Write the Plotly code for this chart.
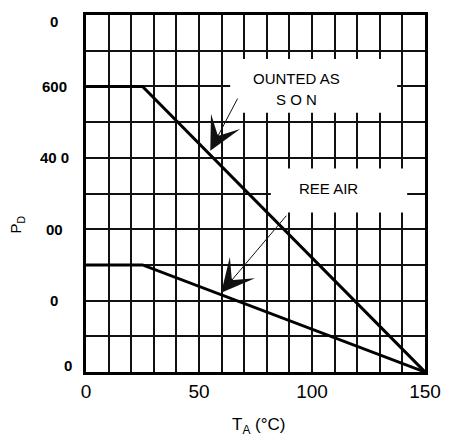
import plotly.graph_objects as go

# Power dissipation derating: P_D versus ambient temperature T_A
ta_mounted = [0, 25, 150]
pd_mounted = [800, 800, 0]

ta_free = [0, 25, 150]
pd_free = [300, 300, 0]

x_tick_vals = [0, 50, 100, 150]
x_tick_text = ["0", "50", "100", "150"]

y_tick_vals = [0, 200, 400, 600, 800, 1000]
y_tick_text = ["0", "0", "00", "40 0", "600", "0"]

label_mounted = ["OUNTED AS", "S O N"]
label_free = "REE AIR"

FONT = "Liberation Sans, Arial, sans-serif"
INK = "#000000"

fig = go.Figure()

fig.add_trace(go.Scatter(x=ta_mounted, y=pd_mounted, mode="lines",
                         line=dict(color=INK, width=3), hoverinfo="skip",
                         showlegend=False))
fig.add_trace(go.Scatter(x=ta_free, y=pd_free, mode="lines",
                         line=dict(color=INK, width=3), hoverinfo="skip",
                         showlegend=False))

# white panels behind the two captions (over the grid, under the curves)
fig.add_shape(type="rect", xref="x", yref="y", x0=63.8, x1=137.7, y0=726, y1=877,
              fillcolor="white", line=dict(width=0), layer="between")
fig.add_shape(type="rect", xref="x", yref="y", x0=81.8, x1=142.1, y0=447, y1=570,
              fillcolor="white", line=dict(width=0), layer="between")

annotations = []

# captions
annotations.append(dict(x=93.1, y=821, xref="x", yref="y", text=label_mounted[0],
                        showarrow=False, font=dict(family=FONT, size=15, color=INK)))
annotations.append(dict(x=93.1, y=762, xref="x", yref="y", text=label_mounted[1],
                        showarrow=False, font=dict(family=FONT, size=15, color=INK)))
annotations.append(dict(x=107.3, y=514, xref="x", yref="y", text=label_free,
                        showarrow=False, font=dict(family=FONT, size=15, color=INK)))

# pointer arrows from captions to curves
annotations.append(dict(x=55.0, y=620, ax=67.4, ay=770, xref="x", yref="y",
                        axref="x", ayref="y", text="", showarrow=True,
                        arrowhead=3, arrowsize=5.5, arrowwidth=1, arrowcolor="#111"))
annotations.append(dict(x=59.8, y=222, ax=89.2, ay=442, xref="x", yref="y",
                        axref="x", ayref="y", text="", showarrow=True,
                        arrowhead=3, arrowsize=5.5, arrowwidth=1, arrowcolor="#111"))

# y tick labels
for i, (v, t) in enumerate(zip(y_tick_vals, y_tick_text)):
    xs, ys = -32, 0
    if i == 0:
        xs, ys = -18, 7
    elif i == len(y_tick_vals) - 1:
        ys = -6
    annotations.append(dict(x=0, y=v, xref="paper", yref="y", text=t, showarrow=False,
                            xanchor="center", yanchor="middle", xshift=xs, yshift=ys,
                            font=dict(family=FONT, size=15, color=INK, weight="bold")))

# axis titles
annotations.append(dict(x=0, y=0.413, xref="paper", yref="paper", text="P<sub>D</sub>",
                        textangle=-90, showarrow=False, xanchor="center", yanchor="middle",
                        xshift=-69, font=dict(family=FONT, size=15, color=INK)))
annotations.append(dict(x=0.5, y=0, xref="paper", yref="paper", text="T<sub>A</sub> (°C)",
                        showarrow=False, xanchor="center", yanchor="middle",
                        xshift=3, yshift=-54, font=dict(family=FONT, size=17, color=INK)))

grid = dict(showgrid=True, gridcolor="#111111", gridwidth=1.6)

fig.update_layout(
    width=453, height=438,
    margin=dict(l=86, r=24, t=14, b=66),
    paper_bgcolor="white", plot_bgcolor="white",
    annotations=annotations,
    xaxis=dict(range=[0, 150], tickvals=x_tick_vals, ticktext=x_tick_text,
               ticks="", tickfont=dict(family=FONT, size=19, color=INK),
               showline=True, linecolor=INK, linewidth=3, mirror=True,
               zeroline=False, minor=dict(dtick=10, **grid), **grid),
    yaxis=dict(range=[0, 1000], tickvals=y_tick_vals, showticklabels=False,
               ticks="", showline=True, linecolor=INK, linewidth=3, mirror=True,
               zeroline=False, minor=dict(dtick=100, **grid), **grid),
)

fig.write_html("out.html")
